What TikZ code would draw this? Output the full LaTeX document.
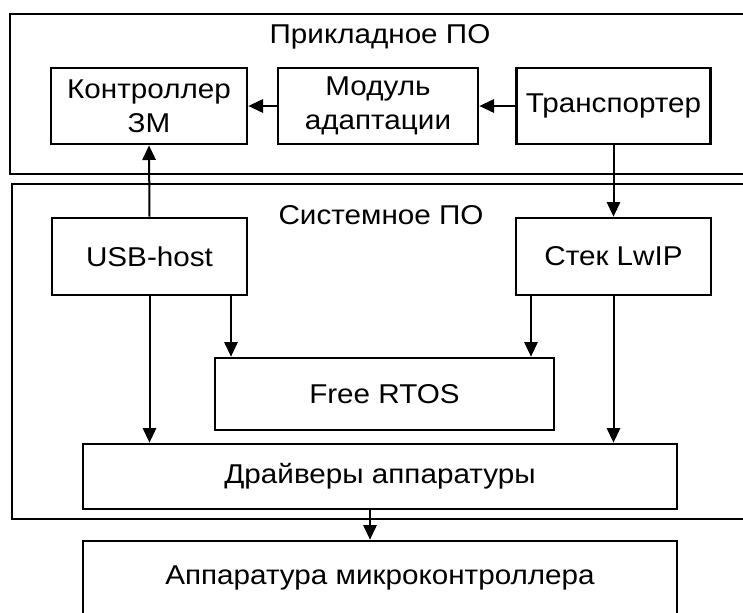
\documentclass[tikz,border=0pt]{standalone}
\usepackage{fontspec}
\setmainfont{Liberation Sans}[FakeStretch=1.09]
\usetikzlibrary{arrows.meta}
\begin{document}
\begin{tikzpicture}[x=0.75pt,y=-0.75pt,
  txt/.style={font=\fontsize{20.4}{25.5}\selectfont},
  box/.style={txt, draw, line width=2pt, inner sep=0pt, align=center},
  frame/.style={draw, line width=1.8pt},
  arr/.style={line width=1.5pt, -{Triangle[length=11pt,width=10pt]}}]
\useasboundingbox (0,0) rectangle (743,612);
\clip (0,0) rectangle (743,612);
\fill[white] (0,0) rectangle (743,612);
% frames
\draw[frame] (10,14) rectangle (800,174);
\draw[frame] (12,184) rectangle (800,519);
\node[txt, anchor=base] (applbl) at (380,43) {Прикладное ПО};
\node[txt, anchor=base] (syslbl) at (381,224) {Системное ПО};
% boxes
\node[box, minimum width=147pt, minimum height=57pt] (ctrl) at (149,106) {Контроллер\\ЗМ};
\node[box, minimum width=150pt, minimum height=57pt] (mod) at (378,106) {Модуль\\адаптации};
\node[box, minimum width=145.5pt, minimum height=57pt] (trans) at (613.5,106) {Транспортер};
\node[box, minimum width=146.25pt, minimum height=57.75pt] (usb) at (149.5,256.5) {USB-host};
\node[box, minimum width=146.25pt, minimum height=57.75pt] (stack) at (613.5,256.5) {Стек LwIP};
\node[box, minimum width=254.25pt, minimum height=54pt] (rtos) at (384.5,394) {Free RTOS};
\node[box, minimum width=445.5pt, minimum height=48.75pt] (drv) at (380,476.5) {Драйверы аппаратуры};
\node[box, minimum width=445.5pt, minimum height=55.5pt] (hw) at (380,578) {Аппаратура микроконтроллера};
% helper x positions
\coordinate (c1) at (231,0);
\coordinate (c2) at (531,0);
\coordinate (c3) at (370,0);
% connectors
\draw[arr] (mod.west) -- (ctrl.east);
\draw[arr] (trans.west) -- (mod.east);
\draw[arr] (usb.north) -- (ctrl.south);
\draw[arr] (trans.south) -- (stack.north);
\draw[arr] (usb.south) -- (usb.south |- drv.north);
\draw[arr] (usb.south -| c1) -- (rtos.north -| c1);
\draw[arr] (stack.south -| c2) -- (rtos.north -| c2);
\draw[arr] (stack.south) -- (stack.south |- drv.north);
\draw[arr] (drv.south -| c3) -- (hw.north -| c3);
\end{tikzpicture}
\end{document}
